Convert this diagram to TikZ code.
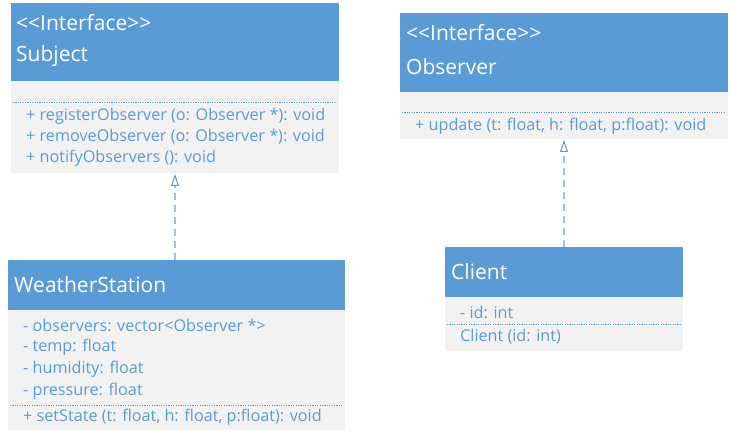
\documentclass[tikz,border=0pt]{standalone}
\usepackage{fontspec}
\setmainfont{Open Sans}
\usetikzlibrary{arrows.meta}
\definecolor{hblue}{HTML}{5B9BD5}
\definecolor{bgray}{HTML}{F2F2F2}
\definecolor{tblue}{HTML}{5B9BD5}
\definecolor{lblue}{HTML}{9DC3E6}
\begin{document}
\begin{tikzpicture}[x=1pt,y=-1pt,
  boxbody/.style={fill=bgray, draw=none, anchor=north west, inner sep=0pt, outer sep=0pt},
  boxhead/.style={fill=hblue, draw=none, anchor=north west, inner sep=0pt, outer sep=0pt},
  headtxt/.style={anchor=west, inner sep=0pt, text=white, font=\fontsize{21}{25}\selectfont},
  bodytxt/.style={anchor=west, inner sep=0pt, text=tblue, font=\fontsize{16.2}{19}\selectfont},
  sep/.style={draw=tblue, line width=0.8pt, dash pattern=on 1.2pt off 1.2pt},
  realize/.style={draw=lblue, line width=1.2pt, dash pattern=on 7pt off 5pt, -{Triangle[open, length=12pt, width=8pt, line width=1pt, sharp, color=hblue]}, shorten >=1pt}
]
\useasboundingbox (0,0) rectangle (730,438);
% Subject
\node[boxbody, minimum width=328pt, minimum height=170pt] (subj) at (11,3) {};
\node[boxhead, minimum width=328pt, minimum height=78pt] (subjh) at (11,3) {};
\node[headtxt] (subjs) at (16,23) {{<}{<}Interface{>}{>}};
\node[headtxt] (subjn) at (16,56) {Subject};
\coordinate (subjd1) at (13,102);
\coordinate (subjd2) at (337,102);
\draw[sep] (subjd1) -- (subjd2);
\node[bodytxt] (subjm1) at (26,116) {+ registerObserver (o: Observer *): void};
\node[bodytxt] (subjm2) at (26,137) {+ removeObserver (o: Observer *): void};
\node[bodytxt] (subjm3) at (26,158) {+ notifyObservers (): void};
% Observer
\node[boxbody, minimum width=328pt, minimum height=126pt] (obs) at (400,13) {};
\node[boxhead, minimum width=328pt, minimum height=79pt] (obsh) at (400,13) {};
\node[headtxt] (obss) at (406,33) {{<}{<}Interface{>}{>}};
\node[headtxt] (obsn) at (406,67) {Observer};
\coordinate (obsd1) at (402,112);
\coordinate (obsd2) at (726,112);
\draw[sep] (obsd1) -- (obsd2);
\node[bodytxt] (obsm1) at (415,126) {+ update (t: float, h: float, p:float): void};
% WeatherStation
\node[boxbody, minimum width=337pt, minimum height=170pt] (ws) at (8,260) {};
\node[boxhead, minimum width=337pt, minimum height=50pt] (wsh) at (8,260) {};
\node[headtxt] (wsn) at (14,285) {WeatherStation};
\node[bodytxt] (wsa1) at (23,325) {- observers: vector{<}Observer *{>}};
\node[bodytxt] (wsa2) at (23,347) {- temp: float};
\node[bodytxt] (wsa3) at (23,369) {- humidity: float};
\node[bodytxt] (wsa4) at (23,391) {- pressure: float};
\coordinate (wsd1) at (10,405);
\coordinate (wsd2) at (343,405);
\draw[sep] (wsd1) -- (wsd2);
\node[bodytxt] (wsm1) at (23,417) {+ setState (t: float, h: float, p:float): void};
% Client
\node[boxbody, minimum width=238pt, minimum height=104pt] (cl) at (445,247) {};
\node[boxhead, minimum width=238pt, minimum height=50pt] (clh) at (445,247) {};
\node[headtxt] (cln) at (451,272) {Client};
\node[bodytxt] (cla1) at (460,312) {- id: int};
\coordinate (cld1) at (447,324);
\coordinate (cld2) at (681,324);
\draw[sep] (cld1) -- (cld2);
\node[bodytxt] (clm1) at (460,337) {Client (id: int)};
% connectors
\draw[realize] (subj.south |- ws.north) -- (subj.south);
\draw[realize] (cl.north) -- (obs.south);
\end{tikzpicture}
\end{document}
